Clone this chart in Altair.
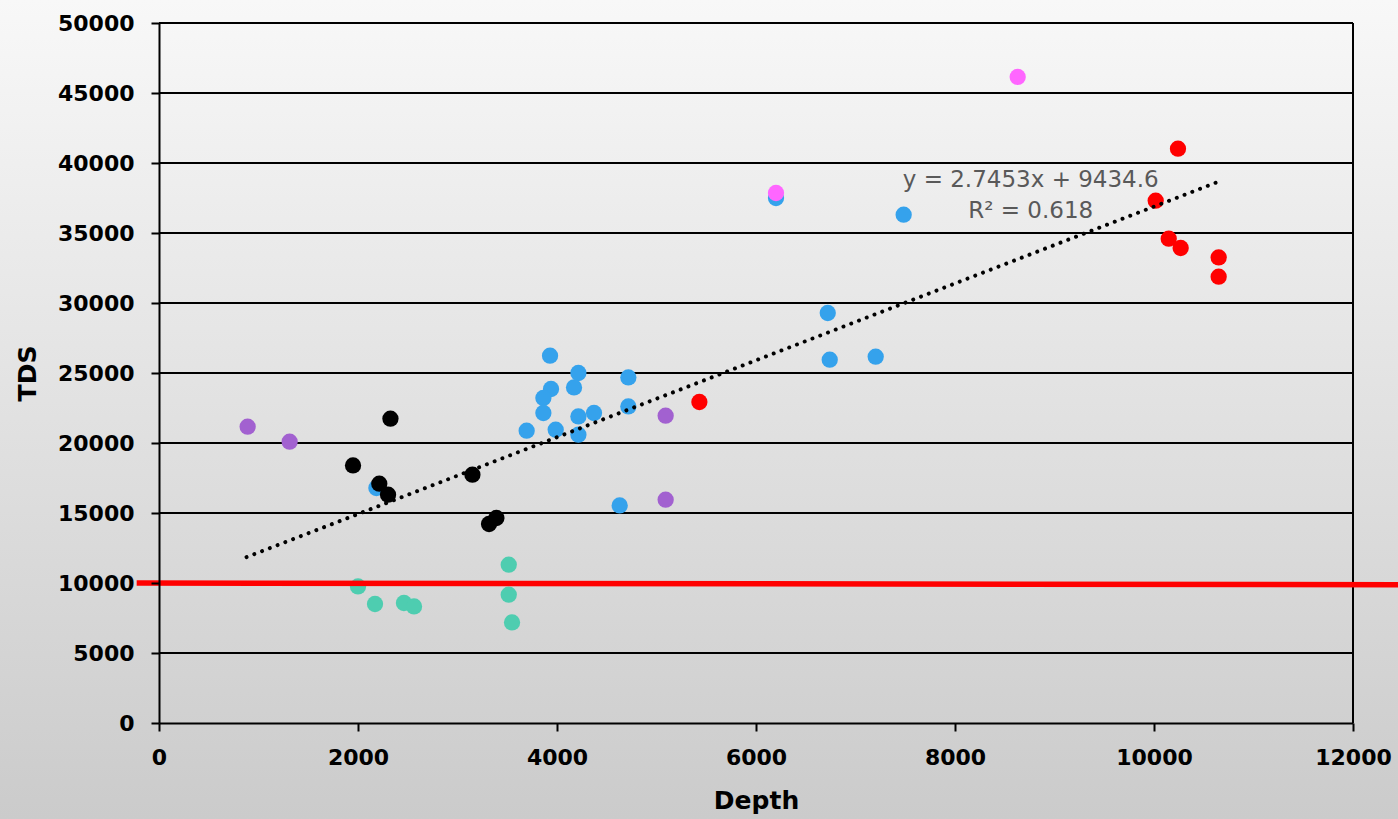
import altair as alt
import pandas as pd

# ---- data ----
blue_depth = [3930, 4215, 4171, 3940, 3863, 3863, 4717, 4717, 4215, 4372, 3695, 3987, 4215, 4630, 2185, 6201, 7484, 6721, 6741, 7203]
blue_tds = [26236, 25000, 23971, 23857, 23214, 22143, 24686, 22614, 21900, 22143, 20879, 20950, 20593, 15543, 16786, 37500, 36307, 29286, 25950, 26164]

teal_depth = [2000, 2171, 2462, 2563, 3515, 3515, 3548]
teal_tds = [9757, 8500, 8571, 8329, 11307, 9164, 7186]

purple_depth = [891, 1313, 5092, 5092]
purple_tds = [21164, 20093, 21950, 15950]

black_depth = [1950, 2326, 2214, 2302, 3150, 3317, 3391]
black_tds = [18400, 21736, 17093, 16307, 17736, 14214, 14643]

red_depth = [5431, 10241, 10017, 10148, 10268, 10650, 10650]
red_tds = [22929, 41021, 37307, 34593, 33929, 33257, 31879]

pink_depth = [6201, 8630]
pink_tds = [37857, 46150]

groups = ["blue", "teal", "purple", "black", "red", "pink"]
group_colors = ["#35A2EC", "#4ECDB0", "#A261D0", "#000000", "#FF0000", "#FF66FF"]

trend_depth = [880, 10660]
trend_tds = [11850, 38700]

limit_depth = [-224, 12460]
limit_tds = [10000, 9880]

eq_labels = ["y = 2.7453x + 9434.6", "R² = 0.618"]
eq_depth = [8761, 8761]
eq_tds = [38800, 36590]

x_ticks = [0, 2000, 4000, 6000, 8000, 10000, 12000]
y_ticks = [0, 5000, 10000, 15000, 20000, 25000, 30000, 35000, 40000, 45000, 50000]

# ---- tables ----
rows = []
for g, d, t in [("blue", blue_depth, blue_tds), ("teal", teal_depth, teal_tds),
                ("purple", purple_depth, purple_tds), ("black", black_depth, black_tds),
                ("red", red_depth, red_tds), ("pink", pink_depth, pink_tds)]:
    for i in range(len(d)):
        rows.append({"Depth": d[i], "TDS": t[i], "group": g})
pts = pd.DataFrame(rows)
pts["ord"] = range(len(pts))

trend = pd.DataFrame({"Depth": trend_depth, "TDS": trend_tds})
limit = pd.DataFrame({"Depth": limit_depth, "TDS": limit_tds})
eq = pd.DataFrame({"Depth": eq_depth, "TDS": eq_tds, "label": eq_labels})
frame = pd.DataFrame({"Depth": [x_ticks[-1]], "lo": [y_ticks[0]], "hi": [y_ticks[-1]]})
grid = pd.DataFrame({"TDS": y_ticks[1:], "x0": [x_ticks[0]] * (len(y_ticks) - 1),
                     "x1": [x_ticks[-1]] * (len(y_ticks) - 1)})

FONT = "DejaVu Sans"

xscale = alt.Scale(domain=[0, 12000], nice=False, zero=False)
yscale = alt.Scale(domain=[0, 50000], nice=False)

xaxis = alt.Axis(values=x_ticks, title="Depth", grid=False, format="d", zindex=1,
                 labelFont=FONT, labelFontSize=22, labelFontWeight="bold", labelColor="#000000",
                 labelPadding=16, titleFont=FONT, titleFontSize=25, titleFontWeight="bold",
                 titleColor="#000000", titlePadding=20, domainColor="#000000", domainWidth=2,
                 tickColor="#000000", tickWidth=2, tickSize=8, labelFlush=False)
yaxis = alt.Axis(values=y_ticks, title="TDS", grid=False,
                 format="d", zindex=1, labelFont=FONT, labelFontSize=22, labelFontWeight="bold",
                 labelColor="#000000", labelPadding=17, titleFont=FONT, titleFontSize=25,
                 titleFontWeight="bold", titleColor="#000000", titlePadding=17,
                 domainColor="#000000", domainWidth=2, tickColor="#000000", tickWidth=2,
                 tickSize=8)

bg = alt.Chart(pd.DataFrame({"a": [0]})).mark_rect(
    color=alt.Gradient(gradient="linear", x1=0, y1=0, x2=0, y2=1,
                       stops=[alt.GradientStop(offset=0, color="#F8F8F8"),
                              alt.GradientStop(offset=1, color="#CBCBCB")]),
).encode(x=alt.value(-159), x2=alt.value(1239), y=alt.value(-23), y2=alt.value(796))

gridlines = alt.Chart(grid).mark_rule(color="#000000", strokeWidth=2).encode(
    x=alt.X("x0:Q", scale=xscale, axis=xaxis),
    x2="x1:Q",
    y=alt.Y("TDS:Q", scale=yscale, axis=yaxis),
)

right_border = alt.Chart(frame).mark_rule(color="#000000", strokeWidth=2).encode(
    x=alt.X("Depth:Q", scale=xscale, axis=xaxis),
    y=alt.Y("lo:Q", scale=yscale, axis=yaxis),
    y2="hi:Q",
)

points = alt.Chart(pts).mark_circle(size=265, opacity=1).encode(
    x=alt.X("Depth:Q", scale=xscale, axis=xaxis),
    y=alt.Y("TDS:Q", scale=yscale, axis=yaxis),
    color=alt.Color("group:N", scale=alt.Scale(domain=groups, range=group_colors), legend=None),
    order=alt.Order("ord:Q"),
)

trend_line = alt.Chart(trend).mark_line(
    color="#000000", strokeWidth=4, strokeDash=[0.01, 8.3], strokeCap="round"
).encode(x="Depth:Q", y="TDS:Q")

limit_line = alt.Chart(limit).mark_line(
    color="#FF0000", strokeWidth=5.5, clip=False
).encode(x="Depth:Q", y="TDS:Q")

eq_text = alt.Chart(eq).mark_text(
    font=FONT, fontSize=23, color="#595959", align="center", baseline="middle"
).encode(x="Depth:Q", y="TDS:Q", text="label:N")

chart = alt.layer(bg, gridlines, right_border, points, trend_line, limit_line, eq_text).properties(
    width=1194, height=700,
    autosize=alt.AutoSizeParams(type="none"),
    padding={"left": 159, "top": 23, "right": 45, "bottom": 96},
    background="#E4E4E4",
).configure_view(stroke=None)

chart.save("out.html", embed_options={"renderer": "svg", "actions": False})
